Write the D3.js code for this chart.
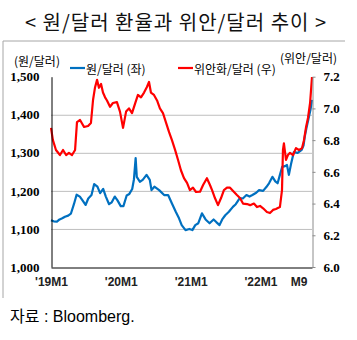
<!DOCTYPE html>
<html><head><meta charset="utf-8">
<script src="https://cdn.jsdelivr.net/npm/d3@7"></script>
<style>
html,body{margin:0;padding:0;background:#fff;}
svg{display:block;}
</style></head>
<body>
<svg id="c" width="357" height="340"></svg>
<script>
// ---- data ----
const krwDates = ["2019-01-01","2019-01-15","2019-02-01","2019-02-15","2019-03-01","2019-03-15","2019-04-01","2019-04-15","2019-05-01","2019-05-15","2019-06-01","2019-06-15","2019-07-01","2019-07-15","2019-08-01","2019-08-15","2019-09-01","2019-09-15","2019-10-01","2019-10-15","2019-11-01","2019-11-15","2019-12-01","2019-12-15","2020-01-01","2020-01-15","2020-02-01","2020-02-15","2020-03-01","2020-03-10","2020-03-19","2020-03-25","2020-04-10","2020-04-25","2020-05-15","2020-06-01","2020-06-10","2020-06-25","2020-07-20","2020-08-15","2020-09-05","2020-09-25","2020-10-15","2020-11-01","2020-11-15","2020-12-05","2020-12-25","2021-01-10","2021-01-25","2021-02-10","2021-03-01","2021-03-20","2021-04-10","2021-05-01","2021-05-15","2021-06-01","2021-06-15","2021-07-01","2021-07-20","2021-08-10","2021-08-25","2021-09-15","2021-10-01","2021-10-20","2021-11-05","2021-11-20","2021-12-10","2021-12-25","2022-01-15","2022-02-01","2022-02-15","2022-03-05","2022-03-20","2022-04-01","2022-04-12","2022-04-25","2022-05-10","2022-05-20","2022-05-30","2022-06-10","2022-06-25","2022-07-15","2022-08-05","2022-08-15","2022-08-22","2022-08-30","2022-09-10","2022-09-20","2022-09-28"];
const krwValues = [1123,1120,1119,1125,1128,1132,1135,1140,1165,1190,1185,1175,1163,1180,1189,1218,1211,1194,1205,1185,1165,1170,1185,1175,1160,1160,1188,1192,1205,1230,1286,1237,1224,1229,1242,1229,1202,1211,1202,1189,1189,1167,1145,1128,1110,1097,1100,1097,1110,1115,1141,1125,1115,1125,1118,1110,1125,1136,1145,1158,1165,1181,1180,1189,1185,1189,1195,1202,1200,1210,1220,1237,1225,1220,1240,1263,1265,1268,1242,1270,1302,1300,1308,1320,1345,1365,1390,1413,1439];

const cnyDates = ["2019-01-01","2019-01-11","2019-01-27","2019-02-17","2019-03-05","2019-03-21","2019-04-05","2019-04-21","2019-05-07","2019-05-17","2019-06-02","2019-06-23","2019-07-14","2019-07-29","2019-08-09","2019-08-19","2019-08-30","2019-09-09","2019-09-20","2019-09-30","2019-10-11","2019-10-21","2019-11-06","2019-11-21","2019-12-12","2019-12-28","2020-01-13","2020-01-29","2020-02-13","2020-02-29","2020-03-16","2020-03-31","2020-04-16","2020-05-02","2020-05-17","2020-05-28","2020-06-07","2020-06-23","2020-07-09","2020-07-24","2020-08-09","2020-08-25","2020-09-10","2020-09-25","2020-10-11","2020-10-27","2020-11-11","2020-11-27","2020-12-13","2020-12-28","2021-01-13","2021-01-29","2021-02-19","2021-03-07","2021-03-27","2021-04-12","2021-04-23","2021-05-08","2021-05-24","2021-06-09","2021-06-24","2021-07-10","2021-07-26","2021-08-16","2021-08-31","2021-09-16","2021-10-02","2021-10-23","2021-11-08","2021-11-28","2021-12-14","2021-12-30","2022-01-15","2022-02-04","2022-02-20","2022-03-08","2022-03-23","2022-04-13","2022-04-24","2022-04-29","2022-05-04","2022-05-15","2022-05-25","2022-06-05","2022-06-21","2022-07-06","2022-07-22","2022-08-07","2022-08-17","2022-08-28","2022-09-07","2022-09-18","2022-09-23","2022-09-28"];
const cnyValues = [6.877,6.80,6.738,6.706,6.738,6.706,6.72,6.706,6.738,6.914,6.927,6.883,6.889,6.908,7.053,7.13,7.18,7.13,7.154,7.10,7.07,7.05,7.01,7.034,7.04,6.98,6.877,6.98,7.00,6.97,7.03,7.085,7.07,7.10,7.135,7.167,7.10,7.085,7.05,7.00,6.97,6.91,6.85,6.80,6.74,6.675,6.61,6.56,6.53,6.485,6.50,6.473,6.475,6.517,6.56,6.517,6.485,6.435,6.39,6.435,6.485,6.50,6.50,6.473,6.454,6.435,6.40,6.397,6.39,6.40,6.378,6.385,6.37,6.347,6.34,6.36,6.366,6.378,6.485,6.738,6.78,6.675,6.706,6.72,6.706,6.75,6.738,6.75,6.80,6.883,6.94,7.034,7.116,7.198];

const leftTicks = [1000,1100,1200,1300,1400,1500];
const rightTicks = [6.0,6.2,6.4,6.6,6.8,7.0,7.2];
const gridTicks = [1100,1200,1300,1400];
const xTickDates = ["2019-01-01","2020-01-01","2021-01-01","2022-01-01","2022-09-01"];
const xTickLabels = ["'19M1","'20M1","'21M1","'22M1","M9"];
const xDomain = ["2019-01-01","2022-09-28"];

const title = "< 원/달러 환율과 위안/달러 추이 >";
const leftUnit = "(원/달러)";
const rightUnit = "(위안/달러)";
const legendNames = ["원/달러 (좌)","위안화/달러 (우)"];
const source = "자료 : Bloomberg.";

// ---- drawing ----
const parse = d3.timeParse("%Y-%m-%d");
const svg = d3.select("#c");
const L = 51, R = 312, T = 76.7, B = 267;
const BLUE = "#0070C0", RED = "#FF0000";

const x = d3.scaleTime().domain(xDomain.map(parse)).range([L, R]);
const yL = d3.scaleLinear().domain([1000,1500]).range([B, T]);
const yR = d3.scaleLinear().domain([6.0,7.2]).range([B, T]);

// frame
svg.append("line").attr("x1",3).attr("x2",345).attr("y1",41).attr("y2",41).attr("stroke","#a6a6a6");
svg.append("line").attr("x1",3).attr("x2",3).attr("y1",41).attr("y2",298).attr("stroke","#a6a6a6");

// title
svg.append("text").attr("x",176).attr("y",21).attr("text-anchor","middle")
  .attr("dominant-baseline","central")
  .style("font-family","'Noto Sans CJK KR'").style("font-size","20px").style("font-weight","400")
  .style("letter-spacing","1px")
  .attr("fill","#111").text(title);

// gridlines
svg.append("g").selectAll("line").data(gridTicks).join("line")
  .attr("x1",L).attr("x2",R).attr("y1",d=>yL(d)+0.5).attr("y2",d=>yL(d)+0.5)
  .attr("stroke","#bfbfbf").attr("stroke-width",1);

// lines
const krw = krwDates.map((d,i)=>({d:parse(d), v:krwValues[i]}));
const cny = cnyDates.map((d,i)=>({d:parse(d), v:cnyValues[i]}));
svg.append("path").datum(krw)
  .attr("d", d3.line().x(p=>x(p.d)).y(p=>yL(p.v)))
  .attr("fill","none").attr("stroke",BLUE).attr("stroke-width",2.2).attr("stroke-linejoin","round");
svg.append("path").datum(cny)
  .attr("d", d3.line().x(p=>x(p.d)).y(p=>yR(p.v)))
  .attr("fill","none").attr("stroke",RED).attr("stroke-width",2.2).attr("stroke-linejoin","round");

// left axis
const gL = svg.append("g").attr("transform",`translate(${L+0.5},0)`)
  .call(d3.axisLeft(yL).tickValues(leftTicks).tickSize(0).tickPadding(12).tickFormat(d3.format(",")));
gL.select(".domain").attr("stroke","#000");
gL.selectAll("text").style("font-family","'Liberation Serif'").style("font-size","13px").style("font-weight","bold").attr("fill","#000");

// right axis
const gR = svg.append("g").attr("transform",`translate(${R+0.5},0)`)
  .call(d3.axisRight(yR).tickValues(rightTicks).tickSizeOuter(0).tickSizeInner(3).tickPadding(8).tickFormat(d3.format(".1f")));
gR.select(".domain").attr("stroke","#8c8c8c");
gR.selectAll(".tick line").attr("stroke","#8c8c8c");
gR.selectAll("text").style("font-family","'Liberation Serif'").style("font-size","13px").style("font-weight","bold").attr("fill","#000");

// bottom axis
const gB = svg.append("g").attr("transform",`translate(0,${B+0.5})`)
  .call(d3.axisBottom(x).tickValues(xTickDates.map(parse)).tickSize(0).tickPadding(10)
    .tickFormat((d,i)=>xTickLabels[i]));
gB.select(".domain").attr("stroke","#000");
gB.selectAll("text").style("font-family","'Liberation Sans'").style("font-size","12px").style("font-weight","bold").attr("fill","#222");
gB.selectAll(".tick").filter((d,i)=>i===xTickLabels.length-1).select("text").attr("text-anchor","end");

// units
svg.append("text").attr("x",14).attr("y",60).attr("dominant-baseline","central")
  .style("font-family","'Noto Sans CJK KR'").style("font-size","12px").attr("fill","#000").text(leftUnit);
svg.append("text").attr("x",280).attr("y",57).attr("dominant-baseline","central")
  .style("font-family","'Noto Sans CJK KR'").style("font-size","12px").attr("fill","#000").text(rightUnit);

// legend
const legend = [{x:70, c:BLUE, t:legendNames[0]}, {x:178, c:RED, t:legendNames[1]}];
const lg = svg.append("g").selectAll("g").data(legend).join("g");
lg.append("line").attr("x1",d=>d.x).attr("x2",d=>d.x+15).attr("y1",68).attr("y2",68)
  .attr("stroke",d=>d.c).attr("stroke-width",2.2);
lg.append("text").attr("x",d=>d.x+16).attr("y",68).attr("dominant-baseline","central")
  .style("font-family","'Noto Sans CJK KR'").style("font-size","12px").attr("fill","#000").text(d=>d.t);

// source
svg.append("text").attr("x",10).attr("y",316).attr("dominant-baseline","central")
  .style("font-family","'Liberation Sans','Noto Sans CJK KR'").style("font-size","16px").attr("fill","#000").text(source);
</script>
</body></html>
